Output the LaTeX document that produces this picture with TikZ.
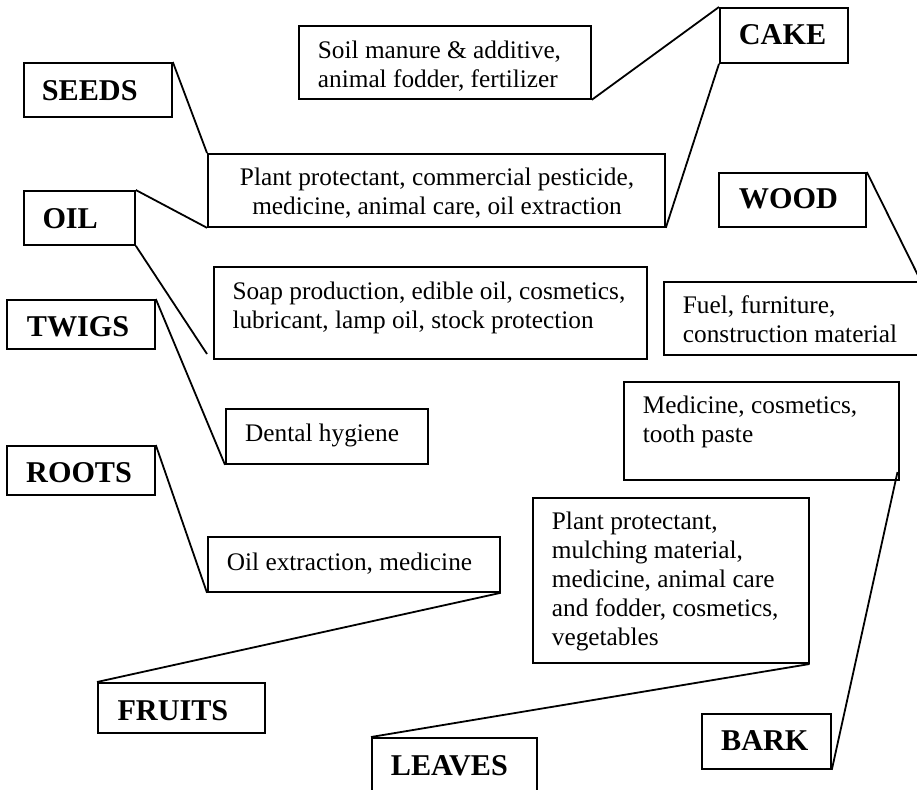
\documentclass[tikz,border=0pt]{standalone}
\usepackage{fontspec}
\setmainfont{Liberation Serif}
\begin{document}
\begin{tikzpicture}[x=1pt,y=-1pt,
  box/.style={draw, line width=1.8pt, inner sep=0pt, anchor=north west},
  lab/.style={font=\fontsize{30.2}{36}\selectfont\bfseries, anchor=base west, inner sep=0pt},
  body/.style={font=\fontsize{25.3}{29}\selectfont, anchor=base west, inner sep=0pt},
  conn/.style={line width=1.8pt}]
\useasboundingbox (0,0) rectangle (917,789);
\clip (0,0) rectangle (917,789);
% label boxes
\node[box, minimum width=148, minimum height=54] (seeds) at (23,62) {};
\node[box, minimum width=111, minimum height=54] (oil) at (23,190) {};
\node[box, minimum width=148, minimum height=49] (twigs) at (6,299) {};
\node[box, minimum width=148, minimum height=49] (roots) at (6,445) {};
\node[box, minimum width=167, minimum height=50] (fruits) at (97,682) {};
\node[box, minimum width=165, minimum height=70] (leaves) at (371,737) {};
\node[box, minimum width=128, minimum height=55] (cake) at (719,7) {};
\node[box, minimum width=147, minimum height=54] (wood) at (718,172) {};
\node[box, minimum width=129, minimum height=55] (bark) at (701,713) {};
% label texts
\node[lab] (tseeds) at (41.7,100) {SEEDS};
\node[lab] (toil) at (42.3,228.3) {OIL};
\node[lab] (ttwigs) at (26.7,336.7) {TWIGS};
\node[lab] (troots) at (26,482.7) {ROOTS};
\node[lab] (tfruits) at (117.3,720) {FRUITS};
\node[lab] (tleaves) at (390.7,775) {LEAVES};
\node[lab] (tcake) at (738.7,45) {CAKE};
\node[lab] (twood) at (738.7,208.3) {WOOD};
\node[lab] (tbark) at (721,750.7) {BARK};
% use boxes
\node[box, minimum width=292, minimum height=73] (soil) at (298,25) {};
\node[box, minimum width=457, minimum height=73] (plant) at (207,153) {};
\node[box, minimum width=433, minimum height=92] (soap) at (213,266) {};
\node[box, minimum width=256, minimum height=73] (fuel) at (663,281) {};
\node[box, minimum width=202, minimum height=55] (dental) at (225,408) {};
\node[box, minimum width=275, minimum height=98] (medic) at (623,381) {};
\node[box, minimum width=292, minimum height=55] (oilx) at (207,536) {};
\node[box, minimum width=276, minimum height=165] (leafuse) at (532,497) {};
% use texts
\node[body] (tsoil) at (317.7,58.3) {\parbox[t]{280pt}{Soil manure \& additive,\\animal fodder, fertilizer}};
\node[body, anchor=base] (tplant) at (437,185.7) {\parbox[t]{450pt}{\centering Plant protectant, commercial pesticide,\\medicine, animal care, oil extraction}};
\node[body] (tsoap) at (232.3,299) {\parbox[t]{420pt}{Soap production, edible oil, cosmetics,\\lubricant, lamp oil, stock protection}};
\node[body] (tfuel) at (682.7,313.3) {\parbox[t]{250pt}{Fuel, furniture,\\construction material}};
\node[body] (tdental) at (245,441.7) {Dental hygiene};
\node[body] (tmedic) at (642.7,413.3) {\parbox[t]{250pt}{Medicine, cosmetics,\\tooth paste}};
\node[body] (toilx) at (226.7,570) {Oil extraction, medicine};
\node[body] (tleafuse) at (551.7,529.3) {\parbox[t]{260pt}{Plant protectant,\\mulching material,\\medicine, animal care\\and fodder, cosmetics,\\vegetables}};
% free ends
\coordinate (soapend) at (207,354);
\coordinate (leafend) at (809.5,664);
\coordinate (medend) at (897.5,472);
% connectors
\draw[conn] (soil.south east) -- (cake.north west);
\draw[conn] (cake.south west) -- (plant.south east);
\draw[conn] (seeds.north east) -- (plant.north west);
\draw[conn] (oil.north east) -- (plant.south west);
\draw[conn] (oil.south east) -- (soapend);
\draw[conn] (wood.north east) -- (fuel.north east);
\draw[conn] (twigs.north east) -- (dental.south west);
\draw[conn] (roots.north east) -- (oilx.south west);
\draw[conn] (fruits.north west) -- (oilx.south east);
\draw[conn] (leaves.north west) -- (leafend);
\draw[conn] (bark.south east) -- (medend);
\end{tikzpicture}
\end{document}
